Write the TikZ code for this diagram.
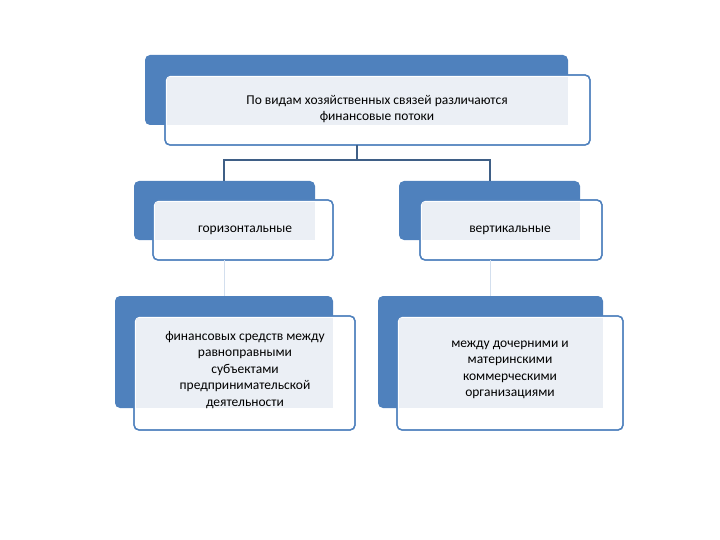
\documentclass[tikz,border=0pt]{standalone}
\usepackage{fontspec}
\setmainfont{Carlito}
\definecolor{bblue}{HTML}{4F81BD}
\definecolor{panel}{HTML}{EBEFF5}
\definecolor{conn}{HTML}{3F5F86}
\tikzset{
  back/.style={fill=bblue,rounded corners=5pt},
  front/.style={draw=bblue,line width=1.3pt,fill=white,rounded corners=5pt},
  lbl/.style={align=center,font=\fontsize{13.5}{16.5}\selectfont,text=black,inner sep=0pt},
  link/.style={draw=conn,line width=1.2pt},
  faint/.style={draw=bblue!25,line width=1pt}
}
\newcommand{\mybox}[9]{%
  % #1..#4 back x1,y1,x2,y2; #5..#6 front x1,y1 (front x2,y2 = #7,#8); #9 name
  \fill[back] (#1,#2) rectangle (#3,#4);
  \fill[front] (#5,#6) rectangle (#7,#8);
  \fill[panel] (#5+2,#6+2) rectangle (#3,#4);
  \draw[front,fill=none] (#5,#6) rectangle (#7,#8);
  \coordinate (#9-top) at ({(#1+#3)/2},#2);
  \coordinate (#9-bot) at ({(#5+#7)/2},#8);
}
\begin{document}
\begin{tikzpicture}[x=1pt,y=-1pt]
\useasboundingbox (0,0) rectangle (720,540);
\mybox{145}{55}{568}{125}{165}{75}{590}{145}{T}
\mybox{134}{181}{315}{240}{153}{200}{333}{260}{H}
\mybox{399}{181}{580}{240}{420}{200}{602}{260}{V}
\mybox{115}{296}{333}{408}{134}{316}{355}{430}{L}
\mybox{378}{296}{603}{408}{397}{316}{623}{430}{R}
\node[lbl] (t) at (377,109) {По видам хозяйственных связей различаются\\финансовые потоки};
\node[lbl] (h) at (245,230) {горизонтальные};
\node[lbl] (v) at (510,230) {вертикальные};
\node[lbl] (l) at (245,370) {финансовых средств между\\равноправными\\субъектами\\предпринимательской\\деятельности};
\node[lbl] (r) at (510,370) {между дочерними и\\материнскими\\коммерческими\\организациями};
\coordinate (tb) at (357,145);
\coordinate (jn) at (357,160);
\coordinate (ha) at (224,181);
\coordinate (va) at (490,181);
\draw[link] (tb) -- (jn) -| (ha);
\draw[link] (jn) -| (va);
\coordinate (hb) at (224,260);
\coordinate (la) at (224,296);
\coordinate (vb) at (490,260);
\coordinate (ra) at (490,296);
\draw[faint] (hb) -- (la);
\draw[faint] (vb) -- (ra);
\end{tikzpicture}
\end{document}
